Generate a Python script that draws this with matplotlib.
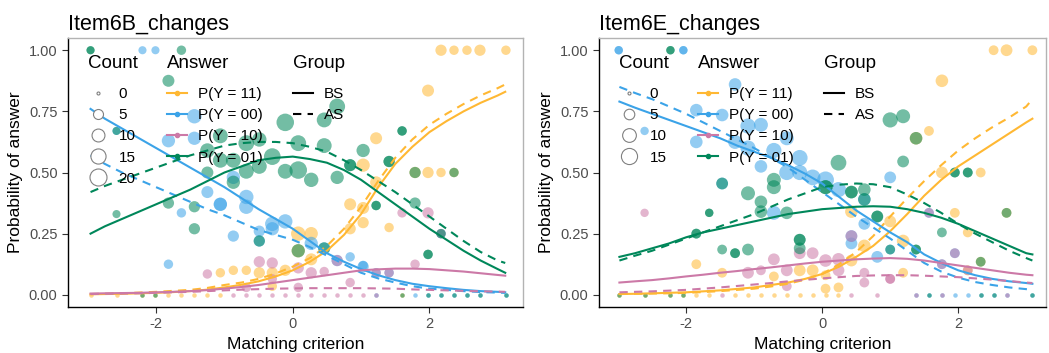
import numpy as np
import matplotlib
matplotlib.use("Agg")
import matplotlib.pyplot as plt
from matplotlib.lines import Line2D

plt.rcParams['font.family'] = ['Liberation Sans', 'DejaVu Sans']
plt.rcParams['axes.unicode_minus'] = False

# answer categories
answers = ['11', '00', '10', '01']
answer_labels = ['P(Y = 11)', 'P(Y = 00)', 'P(Y = 10)', 'P(Y = 01)']
cols = {'11': '#FFB833', '00': '#3BA3E8', '10': '#CC79A7', '01': '#00875A'}

# ---------------- Item6B: empirical proportions (x, proportion, count) ----------------
b11_x = [2.17, 2.36, 2.55, 2.74, 3.12, -1.06, 1.22, 1.03, 1.22, 1.03, 0.84, 0.84, 0.08, 0.27, 0.08, 0.27,
         -0.11, -0.30, -0.49, -0.68, -0.87, -0.30, 1.98, 1.79, 1.98, 2.17, 2.36, 1.03, 1.41]
b11_p = [1, 1, 1, 1, 1, 0.09, 0.64, 0.53, 0.46, 0.355, 0.37, 0.27, 0.25, 0.25, 0.18, 0.145,
         0.10, 0.09, 0.09, 0.10, 0.10, 0.035, 0.835, 0.50, 0.50, 0.50, 0.50, 0.295, 0.275]
b11_n = [4, 2, 2, 4, 2, 2, 5, 7, 5, 5, 5, 4, 9, 7, 7, 5, 4, 4, 4, 2, 2, 2, 5, 4, 4, 2, 2, 4, 2]

b00_x = [-2.20, -2.01, -2.58, -1.82, -1.44, -1.44, -1.25, -1.06, -1.06, -1.63, -1.82, -0.87, -0.68, -0.68,
         -0.87, -0.49, -0.49, -0.30, -0.30, -0.11, 0.27, 0.46, 0.65, 0.84, 1.03, 2.17, 1.03, 1.41, 1.22]
b00_p = [1, 1, 0.67, 0.63, 0.73, 0.64, 0.42, 0.37, 0.37, 0.335, 0.125, 0.48, 0.40, 0.36,
         0.24, 0.26, 0.22, 0.29, 0.27, 0.30, 0.21, 0.19, 0.14, 0.155, 0.115, 0.25, 0.12, 0.09, 0.09]
b00_n = [1, 1, 1, 7, 9, 7, 5, 7, 7, 2, 2, 7, 9, 9, 4, 4, 4, 9, 7, 9, 7, 5, 4, 2, 4, 2, 2, 2, 2]

b10_x = [-1.25, 0.65, -0.30, -0.49, -0.30, 0.08, 0.27, 0.46, 0.08, -0.68, 1.60, 1.98, 2.17, 1.79, 1.41, 1.22, 0.84]
b10_p = [0.085, 0.14, 0.13, 0.135, 0.065, 0.11, 0.09, 0.095, 0.03, 0.03, 0.335, 0.335, 0.25, 0.125, 0.09, 0.09, 0.05]
b10_n = [2, 4, 4, 4, 2, 4, 4, 2, 2, 2, 2, 4, 2, 2, 2, 2, 2]

b01_x = [-2.96, -2.96, -1.63, -1.82, -2.58, -2.58, -1.25, -1.25, -1.06, -1.06, -1.82, -1.44, -1.44, -0.11,
         0.46, 0.65, 1.03, 0.84, 0.84, 1.22, 1.22, 0.65, 0.27, 0.08, -0.11, -0.30, -0.49, -0.68, -0.87,
         -0.68, -0.49, 0.08, 0.46, -0.87, -0.49, 0.08, 0.46, 1.60, 1.60, 1.41, 1.41, 1.79, 2.36, 1.79,
         2.17, 1.98, 1.98]
b01_p = [1, 1, 1, 0.875, 0.67, 0.33, 0.50, 0.59, 0.65, 0.55, 0.375, 0.36, 0.27, 0.705,
         0.715, 0.77, 0.59, 0.53, 0.53, 0.365, 0.365, 0.48, 0.47, 0.51, 0.505, 0.565, 0.525, 0.505, 0.55,
         0.62, 0.635, 0.62, 0.61, 0.46, 0.22, 0.18, 0.19, 0.67, 0.67, 0.545, 0.545, 0.50, 0.50, 0.375,
         0.25, 0.165, 0.165]
b01_n = [1, 1, 2, 5, 1, 1, 5, 9, 10, 10, 4, 4, 4, 16, 10, 12, 7, 5, 5, 2, 2, 7, 9, 16, 10, 14, 10, 10, 10,
         12, 9, 12, 10, 7, 4, 7, 5, 2, 2, 4, 4, 4, 2, 4, 2, 2, 2]

# score levels where a category was never chosen (count 0)
b11_zero = [-2.96, -2.58, -2.20, -2.01, -1.82, -1.63, -1.44, -1.25, -1.06, 1.60]
b00_zero = [1.22, 1.79, 1.98, 2.17, 2.36, 2.55, 2.74, 3.12]
b10_zero = [-0.87, -0.68, -0.49, -0.30, -0.11, 0.08, 0.27, 0.46, 0.65, 0.84, 1.03, 1.22]
b01_zero = [-2.20, -2.01, 1.60, 1.98, 2.17, 2.36, 2.55, 2.74, 3.12]

# fitted curves, BS (solid) and AS (dashed)
b_knots = [-2.96, -2.75, -2.5, -2.25, -2.0, -1.75, -1.5, -1.25, -1.0, -0.75, -0.5, -0.25, 0.0,
           0.25, 0.5, 0.75, 1.0, 1.25, 1.5, 1.75, 2.0, 2.25, 2.5, 2.75, 3.0, 3.11]
b11_bs = [0.002, 0.003, 0.004, 0.006, 0.008, 0.011, 0.015, 0.021, 0.03, 0.041, 0.055, 0.075, 0.10,
          0.135, 0.18, 0.245, 0.33, 0.44, 0.535, 0.605, 0.665, 0.71, 0.75, 0.785, 0.815, 0.83]
b11_as = [0.003, 0.004, 0.006, 0.009, 0.012, 0.016, 0.02, 0.028, 0.04, 0.05, 0.065, 0.087, 0.115,
          0.15, 0.20, 0.27, 0.36, 0.465, 0.56, 0.635, 0.695, 0.74, 0.78, 0.815, 0.845, 0.86]
b00_bs = [0.76, 0.72, 0.68, 0.64, 0.60, 0.56, 0.52, 0.48, 0.44, 0.395, 0.35, 0.31, 0.27,
          0.22, 0.17, 0.135, 0.105, 0.08, 0.06, 0.045, 0.035, 0.027, 0.02, 0.015, 0.012, 0.01]
b00_as = [0.57, 0.535, 0.50, 0.47, 0.44, 0.41, 0.38, 0.35, 0.325, 0.295, 0.265, 0.245, 0.225,
          0.195, 0.16, 0.125, 0.09, 0.067, 0.05, 0.035, 0.025, 0.02, 0.015, 0.011, 0.009, 0.008]
b10_bs = [0.005, 0.006, 0.007, 0.008, 0.01, 0.012, 0.015, 0.019, 0.025, 0.032, 0.04, 0.05, 0.06,
          0.07, 0.08, 0.09, 0.10, 0.104, 0.107, 0.107, 0.105, 0.10, 0.095, 0.088, 0.081, 0.078]
b10_as = [0.003, 0.004, 0.005, 0.006, 0.008, 0.01, 0.012, 0.015, 0.018, 0.021, 0.023, 0.025, 0.026,
          0.027, 0.027, 0.027, 0.027, 0.026, 0.025, 0.022, 0.02, 0.018, 0.016, 0.014, 0.013, 0.012]
b01_bs = [0.25, 0.28, 0.31, 0.34, 0.37, 0.40, 0.43, 0.465, 0.50, 0.525, 0.55, 0.56, 0.565,
          0.555, 0.54, 0.51, 0.47, 0.42, 0.37, 0.32, 0.27, 0.225, 0.18, 0.14, 0.105, 0.09]
b01_as = [0.42, 0.445, 0.47, 0.495, 0.52, 0.545, 0.57, 0.59, 0.61, 0.62, 0.625, 0.625, 0.62,
          0.605, 0.585, 0.55, 0.51, 0.465, 0.42, 0.37, 0.32, 0.27, 0.22, 0.175, 0.14, 0.13]
b_count_ticks = [0, 5, 10, 15, 20]

# ---------------- Item6E ----------------
e11_x = [2.52, 2.71, 3.09, -1.85, -1.47, -0.71, -0.33, -0.14, 0.05, 0.43, 1.00, 0.62, 1.19, 0.43, 0.24, 0.05,
         1.76, 1.57, 1.38, 1.76, 2.33, 1.95, 2.71, 2.14, 1.19, 2.14, 2.33]
e11_p = [1, 1, 1, 0.125, 0.09, 0.075, 0.10, 0.10, 0.08, 0.34, 0.30, 0.20, 0.22, 0.14, 0.03, 0.025,
         0.875, 0.67, 0.64, 0.50, 0.50, 0.335, 0.335, 0.255, 0.09, 0.10, 0.135]
e11_n = [2, 4, 2, 2, 2, 2, 4, 4, 2, 5, 4, 5, 5, 4, 2, 2, 5, 2, 5, 4, 2, 2, 2, 2, 2, 2, 2]

e00_x = [-2.99, -2.99, -2.04, -2.04, -2.61, -1.85, -1.85, -1.47, -1.47, -1.28, -1.09, -1.09, -0.90, -0.90,
         -0.71, -0.52, -0.33, -0.33, -0.71, -0.14, 0.05, 0.24, 0.62, 0.62, 1.00, 0.43, 0.43, 0.81, 1.00,
         1.57, 1.95, 1.76, -1.28, -0.52]
e00_p = [1, 1, 1, 1, 0.67, 0.755, 0.625, 0.735, 0.455, 0.625, 0.69, 0.60, 0.695, 0.525,
         0.59, 0.50, 0.56, 0.50, 0.335, 0.48, 0.47, 0.43, 0.39, 0.29, 0.48, 0.24, 0.21, 0.155, 0.185,
         0.335, 0.17, 0.125, 0.86, 0.64]
e00_n = [1, 1, 1, 1, 1, 5, 5, 5, 4, 7, 9, 9, 7, 5, 9, 9, 10, 9, 7, 10, 12, 9, 5, 4, 4, 4, 4, 4, 2,
         2, 2, 2, 5, 7]

e10_x = [-2.61, -1.09, -0.71, -0.33, -0.90, -0.52, -0.14, 0.24, 0.05, 0.24, -0.52, 0.43, 1.57, 1.95, 1.76,
         1.00, 1.00, 0.62, 0.62, 2.14]
e10_p = [0.335, 0.09, 0.145, 0.17, 0.10, 0.10, 0.17, 0.10, 0.14, 0.145, 0.035, 0.24, 0.335, 0.17, 0.125,
         0.065, 0.065, 0.09, 0.05, 0.10]
e10_n = [1, 4, 4, 4, 2, 4, 4, 4, 5, 5, 2, 4, 2, 2, 2, 2, 2, 2, 2, 2]

e01_x = [-2.23, -2.23, -1.47, -1.66, -1.66, -1.85, -1.85, -1.47, -1.28, -1.28, -1.09, -1.09, -0.71, -0.71,
         -0.90, -0.90, -0.52, -0.33, -0.33, -0.33, 0.05, 0.05, 0.24, 0.43, 0.43, 0.62, 0.62, 0.81, 0.81,
         1.00, 1.19, 1.19, 1.00, 1.38, 1.95, 1.95, 2.14, 2.14, 2.71, 1.76, 1.38, 1.38, 2.33]
e01_p = [1, 1, 0.455, 0.335, 0.335, 0.25, 0.25, 0.185, 0.17, 0.17, 0.185, 0.415, 0.47, 0.44,
         0.38, 0.34, 0.335, 0.225, 0.225, 0.19, 0.44, 0.44, 0.54, 0.42, 0.42, 0.43, 0.39, 0.32, 0.32,
         0.715, 0.73, 0.545, 0.185, 0.64, 0.50, 0.50, 0.50, 0.50, 0.335, 0.255, 0.185, 0.185, 0.135]
e01_n = [1, 1, 4, 1, 1, 2, 2, 2, 2, 2, 4, 7, 7, 7, 5, 5, 5, 4, 4, 4, 7, 7, 10, 5, 5, 5, 5, 4, 4,
         9, 7, 4, 2, 5, 2, 2, 2, 2, 2, 2, 2, 2, 2]

e11_zero = [-2.99, -2.61, -2.23, -2.04, -1.85, -1.66, -1.28, -1.09, -0.90, -0.71, -0.52, -0.33, -0.14, 0.05, 0.24]
e00_zero = [1.38, 1.57, 1.76, 1.95, 2.14, 2.33, 2.52, 2.71, 3.09]
e10_zero = [-1.47, 0.43, 0.81, 1.38, 1.76, 2.71]
e01_zero = [-2.99, -2.61, -2.23, -2.04, 1.57, 2.33, 2.52, 3.09]

e_knots = [-2.98, -2.75, -2.5, -2.25, -2.0, -1.75, -1.5, -1.25, -1.0, -0.75, -0.5, -0.25, 0.0,
           0.25, 0.5, 0.75, 1.0, 1.25, 1.5, 1.75, 2.0, 2.25, 2.5, 2.75, 3.0, 3.09]
e11_bs = [0.003, 0.004, 0.006, 0.008, 0.01, 0.014, 0.018, 0.024, 0.03, 0.04, 0.05, 0.065, 0.085,
          0.115, 0.155, 0.20, 0.26, 0.33, 0.405, 0.47, 0.525, 0.57, 0.615, 0.66, 0.705, 0.72]
e11_as = [0.003, 0.004, 0.005, 0.006, 0.008, 0.011, 0.015, 0.02, 0.025, 0.034, 0.045, 0.062, 0.085,
          0.125, 0.175, 0.24, 0.32, 0.395, 0.465, 0.53, 0.59, 0.64, 0.685, 0.725, 0.77, 0.80]
e00_bs = [0.79, 0.765, 0.74, 0.715, 0.69, 0.665, 0.64, 0.61, 0.585, 0.56, 0.53, 0.495, 0.455,
          0.40, 0.345, 0.30, 0.255, 0.215, 0.165, 0.13, 0.10, 0.08, 0.065, 0.055, 0.048, 0.045]
e00_as = [0.85, 0.825, 0.80, 0.77, 0.74, 0.705, 0.67, 0.635, 0.60, 0.56, 0.52, 0.47, 0.42,
          0.37, 0.32, 0.275, 0.23, 0.18, 0.13, 0.095, 0.07, 0.052, 0.04, 0.03, 0.023, 0.02]
e10_bs = [0.05, 0.055, 0.06, 0.067, 0.075, 0.082, 0.09, 0.097, 0.105, 0.112, 0.12, 0.128, 0.135,
          0.14, 0.145, 0.148, 0.15, 0.147, 0.14, 0.13, 0.12, 0.11, 0.10, 0.09, 0.082, 0.08]
e10_as = [0.01, 0.012, 0.014, 0.017, 0.02, 0.025, 0.03, 0.036, 0.042, 0.048, 0.055, 0.061, 0.067,
          0.072, 0.077, 0.079, 0.08, 0.08, 0.078, 0.075, 0.072, 0.067, 0.062, 0.056, 0.05, 0.048]
e01_bs = [0.155, 0.17, 0.19, 0.21, 0.235, 0.255, 0.27, 0.285, 0.30, 0.315, 0.33, 0.34, 0.35,
          0.355, 0.36, 0.362, 0.36, 0.35, 0.335, 0.315, 0.29, 0.26, 0.23, 0.20, 0.17, 0.165]
e01_as = [0.14, 0.16, 0.18, 0.205, 0.23, 0.255, 0.28, 0.305, 0.33, 0.36, 0.39, 0.415, 0.44,
          0.45, 0.455, 0.452, 0.44, 0.41, 0.375, 0.335, 0.29, 0.25, 0.215, 0.18, 0.15, 0.14]
e_count_ticks = [0, 5, 10, 15]

W, H = 1049, 353
fig = plt.figure(figsize=(W / 100, H / 100), dpi=100)


def diam(n, nmax, extra=0.0):
    # marker diameter in points, area-like scaling
    return (3 + extra + 14 * np.sqrt(np.asarray(n, float) / nmax)) * 0.72


def panel(left, right, title, pts, zeros, knots, bs, as_, nmax, count_ticks, xlim):
    ax = fig.add_axes([left / W, (H - 307) / H, (right - left) / W, 269 / H])
    for a in answers:
        x, p, n = pts[a]
        ax.scatter(x, p, s=diam(n, nmax, 2.0) ** 2, color=cols[a], alpha=0.55, lw=0, zorder=2)
        z = zeros[a]
        ax.scatter(z, np.zeros(len(z)), s=diam(0, nmax, 1.5) ** 2, color=cols[a], alpha=0.55, lw=0, zorder=2)
    for a in answers:
        ax.plot(knots, bs[a], color=cols[a], lw=1.5, zorder=3)
        ax.plot(knots, as_[a], color=cols[a], lw=1.5, ls=(0, (4, 3)), zorder=3)

    ax.set_xlim(*xlim)
    ax.set_ylim(-0.05, 1.05)
    ax.set_xticks([-2, 0, 2])
    ax.set_yticks([0, 0.25, 0.5, 0.75, 1.0])
    ax.set_yticklabels(['0.00', '0.25', '0.50', '0.75', '1.00'])
    ax.tick_params(direction='out', length=4, width=0.8, color='#333333',
                   labelsize=10.5, labelcolor='#4D4D4D')
    for s in ['left', 'bottom']:
        ax.spines[s].set_color('black')
        ax.spines[s].set_linewidth(1.0)
    for s in ['top', 'right']:
        ax.spines[s].set_color('#B3B3B3')
        ax.spines[s].set_linewidth(1.0)
    ax.set_xlabel('Matching criterion', fontsize=12.5)
    ax.set_ylabel('Probability of answer', fontsize=12.5)
    ax.set_title(title, loc='left', fontsize=15.5, pad=6)

    def fx(px):
        return (px - left) / (right - left)

    def fy(py):
        return (307 - py) / 269

    # legend titles
    for off, t in [(20, 'Count'), (99, 'Answer'), (225, 'Group')]:
        ax.text(fx(left + off), fy(64), t, transform=ax.transAxes, fontsize=13.5,
                ha='left', va='center', zorder=5)

    kw = dict(loc='upper left', frameon=False, fontsize=11, borderpad=0, borderaxespad=0,
              handlelength=1.3, handletextpad=0.7, labelspacing=0.47)
    h_count = [Line2D([], [], marker='o', ls='', mfc='white', mec='#808080', mew=0.8,
                      markersize=float(diam(c, nmax))) for c in count_ticks]
    leg1 = ax.legend(h_count, [str(c) for c in count_ticks],
                     bbox_to_anchor=(fx(left + 20), fy(87)), **kw)
    ax.add_artist(leg1)
    h_ans = [Line2D([], [], color=cols[a], lw=1.5, marker='o', markersize=3) for a in answers]
    leg2 = ax.legend(h_ans, answer_labels, bbox_to_anchor=(fx(left + 99), fy(87)), **kw)
    ax.add_artist(leg2)
    h_grp = [Line2D([], [], color='black', lw=1.5),
             Line2D([], [], color='black', lw=1.5, ls=(0, (4, 3)))]
    ax.legend(h_grp, ['BS', 'AS'], bbox_to_anchor=(fx(left + 225), fy(87)), **kw)
    return ax


panel(68, 523, 'Item6B_changes',
      {'11': (b11_x, b11_p, b11_n), '00': (b00_x, b00_p, b00_n),
       '10': (b10_x, b10_p, b10_n), '01': (b01_x, b01_p, b01_n)},
      {'11': b11_zero, '00': b00_zero, '10': b10_zero, '01': b01_zero},
      b_knots,
      {'11': b11_bs, '00': b00_bs, '10': b10_bs, '01': b01_bs},
      {'11': b11_as, '00': b00_as, '10': b10_as, '01': b01_as},
      20, b_count_ticks, (-3.29, 3.37))

panel(599, 1046, 'Item6E_changes',
      {'11': (e11_x, e11_p, e11_n), '00': (e00_x, e00_p, e00_n),
       '10': (e10_x, e10_p, e10_n), '01': (e01_x, e01_p, e01_n)},
      {'11': e11_zero, '00': e00_zero, '10': e10_zero, '01': e01_zero},
      e_knots,
      {'11': e11_bs, '00': e00_bs, '10': e10_bs, '01': e01_bs},
      {'11': e11_as, '00': e00_as, '10': e10_as, '01': e01_as},
      17, e_count_ticks, (-3.28, 3.29))

fig.savefig('out.png', dpi=100)
